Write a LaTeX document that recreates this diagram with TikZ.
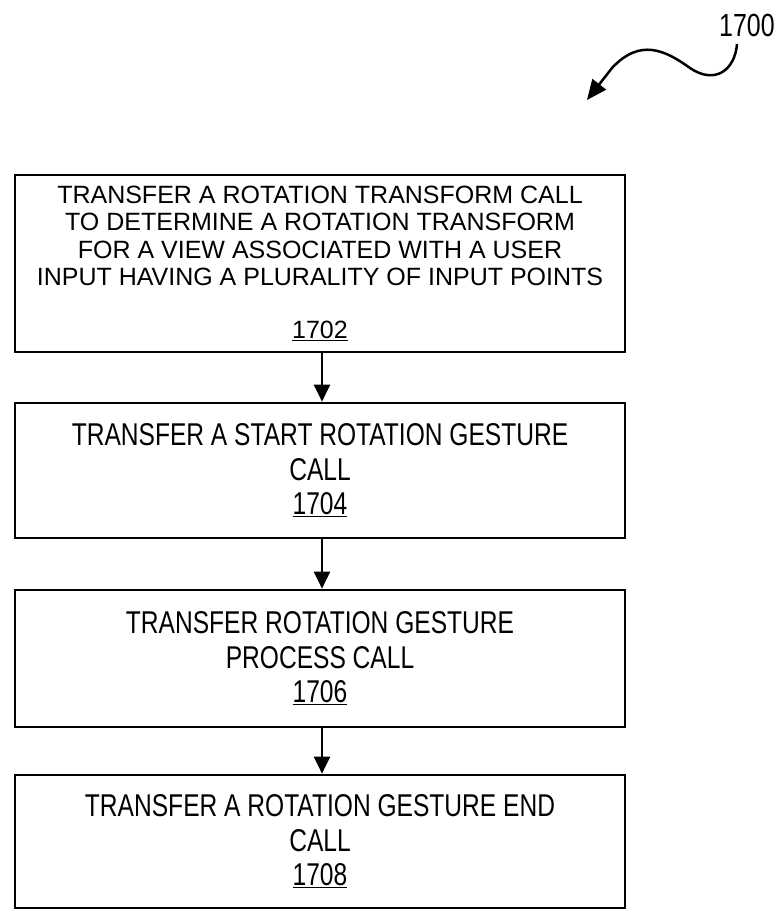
\documentclass[tikz,border=0pt]{standalone}
\usepackage{fontspec}
\setmainfont{Liberation Sans}
\newfontfamily\narrowface[FakeStretch=0.78]{Liberation Sans}
\usetikzlibrary{arrows.meta}
\tikzset{
  stepbox/.style={draw=black, line width=2.7pt, minimum width=610pt, align=center, inner sep=0pt,
    font=\narrowface\fontsize{31.5}{34.5}\selectfont},
  flow/.style={draw=black, line width=2.2pt, -{Triangle[length=17pt,width=16pt]}},
}
\begin{document}
\begin{tikzpicture}[x=1pt,y=-1pt]
\useasboundingbox (0,0) rectangle (780,914);
\node[stepbox, minimum height=177pt, font=\fontsize{25}{27.3}\selectfont] (b1) at (320,263.5)
  {TRANSFER A ROTATION TRANSFORM CALL\\TO DETERMINE A ROTATION TRANSFORM\\FOR A VIEW ASSOCIATED WITH A USER\\INPUT HAVING A PLURALITY OF INPUT POINTS\\[26pt]\underline{1702}};
\node[stepbox, minimum height=135pt] (b2) at (320,470.5)
  {TRANSFER A START ROTATION GESTURE\\CALL\\\underline{1704}};
\node[stepbox, minimum height=137pt] (b3) at (320,658.5)
  {TRANSFER ROTATION GESTURE\\PROCESS CALL\\\underline{1706}};
\node[stepbox, minimum height=133pt] (b4) at (320,841.5)
  {TRANSFER A ROTATION GESTURE END\\CALL\\\underline{1708}};
\draw[flow] (b1.south -| 322,0) -- (b2.north -| 322,0);
\draw[flow] (b2.south -| 322,0) -- (b3.north -| 322,0);
\draw[flow] (b3.south -| 322,0) -- (b4.north -| 322,0);
\node[font=\narrowface\fontsize{32}{34}\selectfont, inner sep=0pt] (lbl) at (747,25) {1700};
\coordinate (tip) at (587,100);
\draw[line width=2.5pt, -{Triangle[length=20pt,width=17pt]}] (737,44) .. controls (735,70) and (715,85) .. (690,68)
  .. controls (665,50) and (640,38) .. (612,68) -- (tip);
\end{tikzpicture}
\end{document}
